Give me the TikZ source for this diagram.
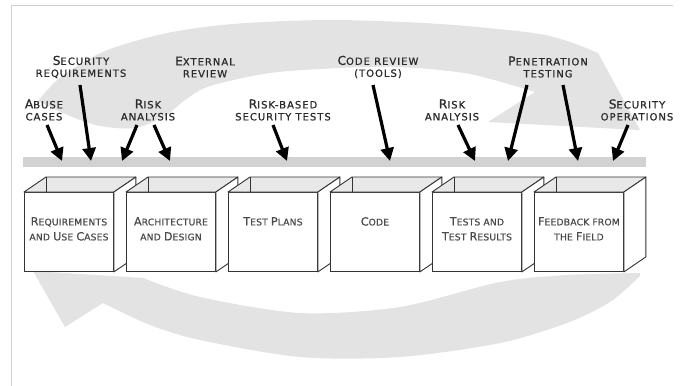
\documentclass[tikz,border=0pt]{standalone}
\usepackage{fontspec}
\usepackage{graphicx}
\usetikzlibrary{arrows.meta}
\setmainfont{DejaVu Sans}
\newfontfamily\labfont[LetterSpace=10,FakeBold=0.8]{DejaVu Sans}
\newfontfamily\boxfont[LetterSpace=2,FakeBold=0.6]{DejaVu Sans}
\newcommand\B[1]{\scalebox{1.22}{#1}}
\definecolor{ribbon}{HTML}{E3E3E3}
\definecolor{barcol}{HTML}{D2D2D2}
\definecolor{edge}{HTML}{333333}
\definecolor{boxtop}{HTML}{E8E8E8}
\definecolor{labcol}{HTML}{2B2B2B}
\definecolor{boxtext}{HTML}{4A4A4A}
\definecolor{frame}{HTML}{D0D0D0}
\newcommand\mycube[3]{%
  \node[front] (#1) at (#2,192) {};
  \filldraw[fill=boxtop,draw=edge,line width=0.9pt,line join=round] (#1.north west) -- ++(22,-15) -- ([shift={(22,-15)}]#1.north east) -- (#1.north east) -- cycle;
  \draw[edge,line width=0.9pt] ([shift={(22,-15)}]#1.north west) -- ++(0,15);
  \filldraw[fill=white,draw=edge,line width=0.9pt,line join=round] (#1.north east) -- ([shift={(22,-15)}]#1.north east) -- ([shift={(22,-15)}]#1.south east) -- (#1.south east) -- cycle;
  \node[boxlab] (#1t) at ([yshift=-25pt]#1.north) {#3};
}
\begin{document}
\begin{tikzpicture}[x=1pt,y=-1pt,
  toplab/.style={font=\labfont\fontsize{10}{12}\selectfont, align=center, text=labcol, inner sep=0pt},
  boxlab/.style={font=\boxfont\fontsize{9.2}{15}\selectfont, align=center, anchor=north, text=boxtext, inner sep=0pt},
  front/.style={draw=edge, fill=white, line width=0.9pt, minimum width=89pt, minimum height=79pt, inner sep=0pt, anchor=north west},
  ptr/.style={line width=3.2pt, -{Triangle[length=13pt,width=13pt]}},
]
\useasboundingbox (0,0) rectangle (681,386);
\fill[white] (0,0) rectangle (681,386);
% frame
\draw[frame,line width=1pt] (11,386) -- (11,5) -- (673,5);
% upper ribbon
\fill[ribbon] plot[smooth] coordinates {(38,101) (55,82) (77,66) (110,49) (167,33) (233,24) (330,20) (440,24) (540,34) (586,48)}
  -- (598,53) -- (640,130) -- (488,122) -- (535,92)
  -- plot[smooth] coordinates {(535,92) (470,74) (400,67) (340,68) (270,73) (210,86) (185,100) (165,116) (135,128) (100,126) (70,116) (38,101)} -- cycle;
% lower ribbon
\fill[ribbon] (33,271) -- (65,327) -- (103,303)
  -- plot[smooth] coordinates {(103,303) (150,325) (200,340) (300,357) (400,357) (500,343) (567,323) (610,302) (640,276)}
  -- plot[smooth] coordinates {(640,273) (567,275) (500,282) (400,307) (300,313) (200,297) (143,278)} -- cycle;
% bar
\fill[barcol] (23,157) rectangle (646,167);
% labels
\node[toplab] (sec) at (81,67) {\B{S}ECURITY\\REQUIREMENTS};
\node[toplab] (ext) at (205,67) {\B{E}XTERNAL\\REVIEW};
\node[toplab] (code) at (378,67) {\B{C}ODE REVIEW\\(TOOLS)};
\node[toplab] (pen) at (548,67) {\B{P}ENETRATION\\TESTING};
\node[toplab] (abuse) at (44,110) {\B{A}BUSE\\CASES};
\node[toplab] (riska) at (148,110) {\B{R}ISK\\ANALYSIS};
\node[toplab] (rbst) at (283,110) {\B{R}ISK-BASED\\SECURITY TESTS};
\node[toplab] (riskb) at (452,110) {\B{R}ISK\\ANALYSIS};
\node[toplab] (secops) at (637,110) {\B{S}ECURITY\\OPERATIONS};
% arrow coordinates
\coordinate (s1) at (47,125);  \coordinate (e1) at (62,161);
\coordinate (s2) at (80,85);   \coordinate (e2) at (91,161);
\coordinate (s3) at (137,125); \coordinate (e3) at (122,161);
\coordinate (s4) at (154,125); \coordinate (e4) at (170,161);
\coordinate (s5) at (273,125); \coordinate (e5) at (287,161);
\coordinate (s6) at (373,85);  \coordinate (e6) at (390,161);
\coordinate (s7) at (458,125); \coordinate (e7) at (475,161);
\coordinate (s8) at (527,85);  \coordinate (e8) at (508,161);
\coordinate (s9) at (563,85);  \coordinate (e9) at (578,161);
\coordinate (s10) at (628,125); \coordinate (e10) at (613,161);
\foreach \i in {1,...,10} {\draw[ptr] (s\i) -- (e\i);}
% boxes
\mycube{b1}{24}{\B{R}EQUIREMENTS\\AND \B{U}SE \B{C}ASES}
\mycube{b2}{126}{\B{A}RCHITECTURE\\AND \B{D}ESIGN}
\mycube{b3}{228}{\B{T}EST \B{P}LANS}
\mycube{b4}{330}{\B{C}ODE}
\mycube{b5}{432}{\B{T}ESTS AND\\\B{T}EST \B{R}ESULTS}
\mycube{b6}{534}{\B{F}EEDBACK FROM\\THE \B{F}IELD}
\end{tikzpicture}
\end{document}
